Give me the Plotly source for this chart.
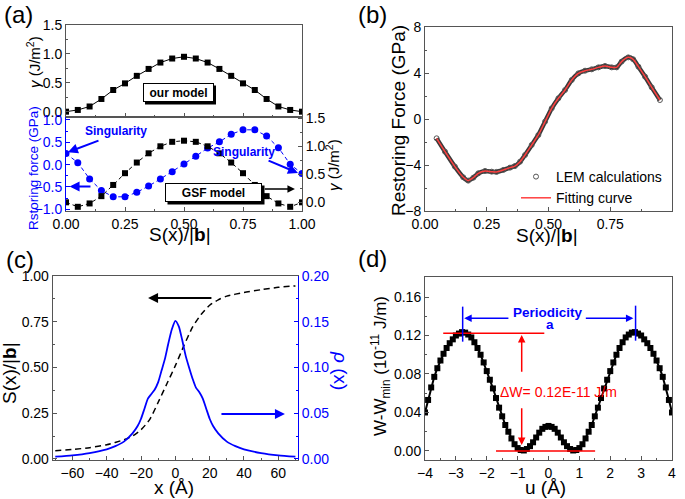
import plotly.graph_objects as go

# ---------------- data ----------------
# (a) GSF energy (our model / GSF model) and restoring force
s_a = [0.00, 0.05, 0.10, 0.15, 0.20, 0.25, 0.30, 0.35, 0.40, 0.45, 0.50,
       0.55, 0.60, 0.65, 0.70, 0.75, 0.80, 0.85, 0.90, 0.95, 1.00]
gamma_our = [0.00, 0.03, 0.09, 0.22, 0.375, 0.49, 0.62, 0.74, 0.85, 0.92, 0.95,
             0.92, 0.85, 0.74, 0.62, 0.49, 0.375, 0.22, 0.09, 0.03, 0.00]
gamma_gsf = [0.00, -0.08, -0.02, 0.11, 0.31, 0.52, 0.71, 0.875, 1.00, 1.08, 1.10,
             1.08, 1.00, 0.875, 0.71, 0.52, 0.31, 0.11, -0.02, -0.08, 0.00]
force_gsf = [0.25, 0.045, -0.32, -0.58, -0.72, -0.72, -0.62, -0.48, -0.32, -0.16, 0.015,
             0.19, 0.37, 0.51, 0.68, 0.78, 0.78, 0.64, 0.38, 0.01, -0.20]

# (b) restoring force, LEM calculations / fitting curve
s_b = [0.047, 0.081, 0.121, 0.155, 0.175, 0.196, 0.216, 0.243, 0.270, 0.290, 0.317,
       0.344, 0.364, 0.385, 0.405, 0.432, 0.459, 0.486, 0.513, 0.540, 0.567, 0.594,
       0.621, 0.648, 0.675, 0.702, 0.729, 0.756, 0.776, 0.796, 0.823, 0.843, 0.864,
       0.891, 0.918, 0.951]
f_b = [-1.68, -2.84, -4.14, -5.07, -5.36, -5.10, -4.72, -4.52, -4.58, -4.60, -4.43,
       -4.23, -4.09, -3.71, -3.13, -2.26, -1.39, -0.23, 0.93, 1.80, 2.52, 3.39,
       3.97, 4.20, 4.32, 4.49, 4.61, 4.49, 4.49, 4.99, 5.36, 5.19, 4.55,
       3.68, 2.75, 1.65]

# (c) disregistry S(x)/|b| and density rho(x)
x_S = [-70, -60, -50, -40, -30, -25, -20, -15, -10, -5, 0, 5, 10, 15, 20, 25, 30, 40, 50, 60, 70]
S_c = [0.045, 0.052, 0.062, 0.078, 0.105, 0.125, 0.16, 0.215, 0.31, 0.41, 0.51, 0.62,
       0.72, 0.79, 0.84, 0.87, 0.89, 0.91, 0.925, 0.938, 0.946]
x_rho = [-70, -60, -50, -40, -35, -30, -25, -22, -20, -18, -16, -14, -12, -10, -8, -6, -4, -2,
         0, 2, 4, 6, 8, 10, 12, 14, 16, 18, 20, 22, 25, 30, 35, 40, 50, 60, 70]
rho_c = [0.0025, 0.004, 0.0065, 0.0105, 0.014, 0.019, 0.028, 0.036, 0.044, 0.055, 0.066,
         0.071, 0.076, 0.084, 0.097, 0.110, 0.127, 0.142, 0.151, 0.145, 0.130, 0.113,
         0.100, 0.088, 0.078, 0.073, 0.066, 0.055, 0.044, 0.036, 0.028, 0.019, 0.014,
         0.0105, 0.0065, 0.004, 0.0025]

# (d) energy W - Wmin vs u
u_d = [round(-4.0 + 0.1 * i, 1) for i in range(81)]
w_d = [0.040, 0.053, 0.066, 0.077, 0.086, 0.094, 0.101, 0.107, 0.112, 0.116,
       0.120, 0.122, 0.1235, 0.123, 0.121, 0.118, 0.113, 0.107, 0.100, 0.092,
       0.083, 0.074, 0.065, 0.055, 0.045, 0.036, 0.027, 0.020, 0.013, 0.007,
       0.003, 0.001, 0.0005, 0.002, 0.005, 0.009, 0.014, 0.019, 0.023, 0.025,
       0.026,
       0.025, 0.023, 0.019, 0.014, 0.009, 0.005, 0.002, 0.0005, 0.001, 0.003,
       0.007, 0.013, 0.020, 0.027, 0.036, 0.045, 0.055, 0.065, 0.074, 0.083,
       0.092, 0.100, 0.107, 0.113, 0.118, 0.121, 0.123, 0.1235, 0.122, 0.120,
       0.116, 0.112, 0.107, 0.101, 0.094, 0.086, 0.077, 0.066, 0.053, 0.040]

# ---------------- style ----------------
W, H = 685, 499
FONT = "Liberation Sans, Arial, sans-serif"
BLUE = "#0000ff"
RED = "#ff0000"
FRAME = "#555555"


def px(x):
    return x / W


def py(y):
    return 1 - y / H


def ax(**kw):
    d = dict(showline=True, linecolor=FRAME, linewidth=1, mirror=True, ticks="inside",
             ticklen=4, tickcolor=FRAME, tickfont=dict(size=14, color="black", family=FONT),
             showgrid=False, zeroline=False, automargin=False)
    d.update(kw)
    return d


def minor(dt, color=FRAME):
    return dict(dtick=dt, ticks="inside", ticklen=2, tickcolor=color, showgrid=False)


fig = go.Figure()

# (a) top
fig.add_trace(go.Scatter(x=s_a, y=gamma_our, mode="lines+markers", xaxis="x", yaxis="y",
                         line=dict(color="black", width=1),
                         marker=dict(symbol="square", size=6, color="black"), showlegend=False))
# (a) bottom
fig.add_trace(go.Scatter(x=s_a, y=gamma_gsf, mode="lines+markers", xaxis="x2", yaxis="y3",
                         line=dict(color="black", width=1, dash="4px,3px"),
                         marker=dict(symbol="square", size=6, color="black"), showlegend=False))
fig.add_trace(go.Scatter(x=s_a, y=force_gsf, mode="lines+markers", xaxis="x2", yaxis="y2",
                         line=dict(color=BLUE, width=1, dash="4px,3px"),
                         marker=dict(symbol="circle", size=7, color=BLUE), showlegend=False))
# (b)
fig.add_trace(go.Scatter(x=s_b, y=f_b, mode="lines", xaxis="x3", yaxis="y4",
                         line=dict(color="#3a3a3a", width=4.5, shape="spline", smoothing=0.6),
                         showlegend=False, hoverinfo="skip"))
fig.add_trace(go.Scatter(x=s_b, y=f_b, mode="markers", xaxis="x3", yaxis="y4",
                         marker=dict(symbol="circle-open", size=5, color="#555555",
                                     line=dict(width=1)),
                         name="LEM calculations"))
fig.add_trace(go.Scatter(x=s_b, y=f_b, mode="lines", xaxis="x3", yaxis="y4",
                         line=dict(color="#ff4040", width=1.5, shape="spline", smoothing=0.6),
                         name="Fitting curve"))
# (c)
fig.add_trace(go.Scatter(x=x_S, y=S_c, mode="lines", xaxis="x4", yaxis="y5",
                         line=dict(color="black", width=1.5, dash="6px,4px", shape="spline",
                                   smoothing=0.6), showlegend=False))
fig.add_trace(go.Scatter(x=x_rho, y=rho_c, mode="lines", xaxis="x4", yaxis="y6",
                         line=dict(color=BLUE, width=1.8, shape="spline", smoothing=0.6),
                         showlegend=False))
# (d)
fig.add_trace(go.Scatter(x=u_d, y=w_d, mode="lines+markers", xaxis="x5", yaxis="y7",
                         line=dict(color="black", width=2),
                         marker=dict(symbol="square", size=6, color="black"), showlegend=False))

xa = [px(66), px(302)]
xb = [px(425), px(672)]
xc = [px(52.7), px(298)]
xd = [px(425), px(672)]

fig.update_layout(
    width=W, height=H, autosize=False,
    margin=dict(l=0, r=0, t=0, b=0, pad=0, autoexpand=False),
    paper_bgcolor="white", plot_bgcolor="white",
    font=dict(family=FONT, size=14, color="black"),
    xaxis=ax(domain=xa, range=[0, 1], anchor="y", dtick=0.25, showticklabels=False,
             minor=minor(0.125)),
    yaxis=ax(domain=[py(117), py(25)], range=[-0.092, 1.5], anchor="x", dtick=0.5,
             tickformat=".1f", minor=minor(0.25)),
    xaxis2=ax(domain=xa, range=[0, 1], anchor="y2", dtick=0.25, tickformat=".2f",
              minor=minor(0.125)),
    yaxis2=ax(domain=[py(211), py(117)], range=[-1.038, 1.067], anchor="x2", dtick=0.5,
              tickformat=".1f", mirror=False, linecolor=BLUE, tickcolor=BLUE,
              tickfont=dict(size=14, color=BLUE, family=FONT), minor=minor(0.25, BLUE)),
    yaxis3=ax(overlaying="y2", side="right", anchor="x2", range=[-0.155, 1.523], dtick=0.5,
              tickformat=".1f", mirror=False, minor=minor(0.25)),
    xaxis3=ax(domain=xb, range=[0, 1], anchor="y4", dtick=0.25, tickformat=".2f",
              minor=minor(0.125)),
    yaxis4=ax(domain=[py(211), py(27)], range=[-8, 8], anchor="x3", dtick=4,
              minor=minor(2)),
    xaxis4=ax(domain=xc, range=[-71.5, 71.5], anchor="y5", dtick=20, minor=minor(10)),
    yaxis5=ax(domain=[py(460), py(276)], range=[-0.0055, 1.0], anchor="x4", dtick=0.25,
              tickformat=".2f", mirror=False, minor=minor(0.125)),
    yaxis6=ax(overlaying="y5", side="right", anchor="x4", range=[-0.0011, 0.2], dtick=0.05,
              tickformat=".2f", mirror=False, linecolor=BLUE, tickcolor=BLUE,
              tickfont=dict(size=14, color=BLUE, family=FONT), minor=minor(0.025, BLUE)),
    xaxis5=ax(domain=xd, range=[-4, 4], anchor="y7", dtick=1, minor=minor(0.5)),
    yaxis7=ax(domain=[py(460), py(277)], range=[-0.0094, 0.1808], anchor="x5", dtick=0.04,
              tickformat=".2f", minor=minor(0.02)),
    legend=dict(x=px(516), y=py(161), xanchor="left", yanchor="top",
                bgcolor="rgba(0,0,0,0)", font=dict(size=14, family=FONT),
                itemwidth=30, tracegroupgap=0),
)

ann = []
shapes = []


def text(x, y, t, size=14, color="black", angle=0, **kw):
    d = dict(xref="paper", yref="paper", x=px(x), y=py(y), text=t, showarrow=False,
             textangle=angle, xanchor="center", yanchor="middle",
             font=dict(size=size, color=color, family=FONT))
    d.update(kw)
    ann.append(d)


def arrow(xr, yr, x0, y0, x1, y1, color, width=1.5, head=2, size=1.0):
    ann.append(dict(xref=xr, yref=yr, axref=xr, ayref=yr, x=x1, y=y1, ax=x0, ay=y0,
                    text="", showarrow=True, arrowhead=head, arrowsize=size,
                    arrowwidth=width, arrowcolor=color))


# panel labels
text(18, 14, "(a)", size=24)
text(372, 14, "(b)", size=24)
text(20, 259, "(c)", size=24)
text(372, 258, "(d)", size=24)

# axis titles
text(33, 62, "<i>γ</i> (J/m<sup>2</sup>)", size=15, angle=-90)
text(33, 168, "Rstoring force (GPa)", size=13.5, color=BLUE, angle=-90)
text(332, 165, "<i>γ</i> (J/m<sup>2</sup>)", size=15, angle=-90)
text(180, 234, "S(x)/|<b>b</b>|", size=19)
text(398, 121, "Restoring Force (GPa)", size=19, angle=-90)
text(547, 235, "S(x)/|<b>b</b>|", size=19)
text(9, 373, "S(x)/|<b>b</b>|", size=19, angle=-90)
text(341, 370, "<i>ρ</i> (x)", size=19, color=BLUE, angle=90)
text(174, 487, "x (Å)", size=19)
text(380, 366, "W-W<sub>min</sub> (10<sup>-11</sup> J/m)", size=17, angle=-90)
text(545, 487, "u (Å)", size=19)

# (a) boxes with shadows
for (cx, cy, w, t) in [(178, 92.5, 71, "our model"), (213.5, 192.5, 97, "GSF model")]:
    shapes.append(dict(type="rect", xref="paper", yref="paper", layer="above",
                       x0=px(cx - w / 2 + 2.5), x1=px(cx + w / 2 + 2.5),
                       y0=py(cy + 9.5 + 2.5), y1=py(cy - 9.5 + 2.5),
                       fillcolor="black", line=dict(width=0)))
    text(cx, cy, "<b>%s</b>" % t, size=12, bgcolor="white", bordercolor="black",
         borderwidth=1, borderpad=2, width=w - 6, height=13)

# (a) Singularity labels and arrows
text(116, 131, "<b>Singularity</b>", size=12, color=BLUE)
text(244, 152, "<b>Singularity</b>", size=12, color=BLUE)
arrow("x2", "y2", 0.144, 0.552, 0.008, 0.28, BLUE, width=2)
arrow("x2", "y2", 0.852, 0.104, 0.983, -0.187, BLUE, width=2)
arrow("x2", "y2", 0.11, -0.49, 0.015, -0.49, BLUE, width=2)
arrow("x2", "y3", 0.836, 0.237, 0.970, 0.237, "black", width=1.5)

# (c) arrows
arrow("x4", "y5", 21.9, 0.88, -15.9, 0.88, "black", width=2)
arrow("x4", "y6", 26.0, 0.0492, 63.9, 0.0492, BLUE, width=2)

# (d) annotations
for (x0, y0, x1, y1, c) in [(-3.41, 0.1223, -0.136, 0.1223, RED),
                            (-1.70, 0.0, 1.51, 0.0, RED),
                            (-2.78, 0.1136, -2.78, 0.150, BLUE),
                            (2.82, 0.1146, 2.82, 0.151, BLUE)]:
    shapes.append(dict(type="line", xref="x5", yref="y7", x0=x0, y0=y0, x1=x1, y1=y1,
                       line=dict(color=c, width=1.5), layer="above"))
arrow("x5", "y7", -1.25, 0.1379, -2.73, 0.1379, BLUE, width=1.5)
arrow("x5", "y7", 1.16, 0.1379, 2.75, 0.1379, BLUE, width=1.5)
arrow("x5", "y7", -0.868, 0.0807, -0.868, 0.1205, RED, width=1.5)
arrow("x5", "y7", -0.868, 0.046, -0.868, 0.0062, RED, width=1.5)
ann.append(dict(xref="x5", yref="y7", x=-0.03, y=0.1434, text="<b>Periodicity</b>",
                showarrow=False, font=dict(size=13.5, color=BLUE, family=FONT)))
ann.append(dict(xref="x5", yref="y7", x=0.05, y=0.131, text="<b>a</b>",
                showarrow=False, font=dict(size=13.5, color=BLUE, family=FONT)))
ann.append(dict(xref="x5", yref="y7", x=0.32, y=0.061, text="ΔW= 0.12E-11 J/m",
                showarrow=False, font=dict(size=14, color=RED, family=FONT)))

fig.update_layout(annotations=ann, shapes=shapes)
fig.write_html("out.html", config={"displayModeBar": False},
               post_script="document.body.style.margin='0';"
                           "document.body.style.overflow='hidden';")
